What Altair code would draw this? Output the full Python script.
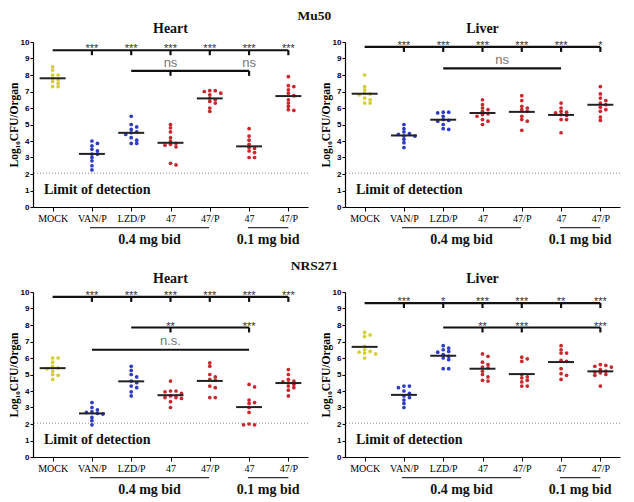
import altair as alt
import pandas as pd

categories = ["MOCK", "VAN/P", "LZD/P", "47", "47/P", "47", "47/P"]
kinds = ["mock", "comparator", "comparator", "test", "test", "test", "test"]

# Log10 CFU per organ, one list per group (order as categories)
mu50_heart = [
    [8.5, 8.3, 8.0, 7.8, 7.7, 7.5, 7.3, 7.3, 7.6, 8.0],
    [4.0, 3.85, 3.7, 3.5, 3.4, 3.2, 3.2, 3.0, 2.8, 2.5, 2.25],
    [5.5, 5.0, 4.85, 4.7, 4.55, 4.5, 4.4, 4.2, 4.05, 3.85, 3.85],
    [5.0, 4.8, 4.55, 4.2, 4.0, 3.85, 3.8, 3.75, 3.65, 2.65, 2.55],
    [7.05, 7.05, 7.0, 6.9, 6.8, 6.6, 6.5, 6.4, 6.3, 6.0, 5.8],
    [4.75, 4.3, 4.05, 3.8, 3.6, 3.55, 3.4, 3.3, 3.0, 3.0],
    [7.9, 7.35, 7.3, 7.1, 6.9, 6.75, 6.5, 6.3, 6.1, 5.9, 5.85],
]
mu50_liver = [
    [8.0, 7.3, 7.1, 6.9, 6.85, 6.8, 6.6, 6.5, 6.3, 6.3],
    [5.0, 4.75, 4.55, 4.45, 4.4, 4.3, 4.3, 4.1, 3.9, 3.6],
    [5.75, 5.75, 5.7, 5.5, 5.3, 5.25, 5.2, 5.0, 4.75, 4.7],
    [6.5, 6.2, 6.0, 5.9, 5.8, 5.65, 5.6, 5.5, 5.3, 5.2, 5.0],
    [6.75, 6.45, 6.1, 6.0, 5.9, 5.8, 5.5, 5.3, 5.2, 4.65],
    [6.3, 6.0, 5.8, 5.75, 5.7, 5.6, 5.55, 5.3, 5.3, 4.5],
    [7.3, 6.85, 6.6, 6.45, 6.3, 6.2, 6.05, 5.9, 5.8, 5.45, 5.25],
]
nrs_heart = [
    [6.0, 6.0, 5.75, 5.5, 5.4, 5.35, 5.2, 5.0, 4.95, 4.7],
    [3.3, 3.0, 2.85, 2.75, 2.7, 2.65, 2.6, 2.4, 2.2, 1.95],
    [5.5, 5.25, 5.0, 4.85, 4.6, 4.5, 4.3, 4.2, 3.95, 3.7],
    [4.6, 4.0, 4.0, 3.95, 3.85, 3.7, 3.6, 3.6, 3.55, 3.35, 3.0],
    [5.7, 5.5, 5.0, 4.85, 4.7, 4.65, 4.3, 4.2, 3.6, 3.6],
    [4.4, 4.25, 3.45, 3.3, 3.25, 3.0, 2.7, 2.0, 1.95, 1.95],
    [5.3, 5.0, 4.7, 4.6, 4.55, 4.5, 4.4, 4.3, 4.2, 4.05, 3.7],
]
nrs_liver = [
    [7.55, 7.4, 7.3, 6.7, 6.5, 6.4, 6.35, 6.3, 6.25, 6.0],
    [4.3, 4.3, 4.2, 4.0, 3.85, 3.7, 3.6, 3.45, 3.25, 3.0],
    [6.75, 6.6, 6.5, 6.4, 6.35, 6.2, 6.1, 6.0, 5.9, 5.35, 5.35],
    [6.25, 6.1, 5.75, 5.6, 5.45, 5.4, 5.2, 5.0, 4.85, 4.65, 4.6],
    [6.05, 5.95, 5.8, 5.0, 4.85, 4.8, 4.65, 4.55, 4.3, 4.3],
    [6.75, 6.5, 6.3, 6.3, 5.85, 5.8, 5.35, 5.05, 4.95, 4.7],
    [5.6, 5.55, 5.5, 5.45, 5.3, 5.2, 5.15, 5.1, 5.0, 4.95, 4.3],
]

# significance brackets: (from group, to group, level)
mu50_heart_bars = [(0, 6, 9.5), (2, 5, 8.25)]
mu50_heart_ticks = [(1, 9.5), (2, 9.5), (3, 9.5), (4, 9.5), (5, 9.5), (6, 9.5), (3, 8.25), (5, 8.25)]
mu50_heart_stars = [(1, 9.5, "***"), (2, 9.5, "***"), (3, 9.5, "***"), (4, 9.5, "***"), (5, 9.5, "***"), (6, 9.5, "***")]
mu50_heart_ns = [(3, 8.25, "ns"), (5, 8.25, "ns")]

mu50_liver_bars = [(0, 6, 9.7), (2, 5, 8.4)]
mu50_liver_ticks = [(1, 9.7), (2, 9.7), (3, 9.7), (4, 9.7), (5, 9.7), (6, 9.7)]
mu50_liver_stars = [(1, 9.7, "***"), (2, 9.7, "***"), (3, 9.7, "***"), (4, 9.7, "***"), (5, 9.7, "***"), (6, 9.7, "*")]
mu50_liver_ns = [(3.5, 8.4, "ns")]

nrs_heart_bars = [(0, 6, 9.7), (2, 5, 7.85), (1, 5, 6.5)]
nrs_heart_ticks = [(1, 9.7), (2, 9.7), (3, 9.7), (4, 9.7), (5, 9.7), (6, 9.7), (3, 7.85), (5, 7.85)]
nrs_heart_stars = [(1, 9.7, "***"), (2, 9.7, "***"), (3, 9.7, "***"), (4, 9.7, "***"), (5, 9.7, "***"), (6, 9.7, "***"),
                   (3, 7.85, "**"), (5, 7.85, "***")]
nrs_heart_ns = [(3, 6.5, "n.s.")]

nrs_liver_bars = [(0, 6, 9.33), (2, 6, 7.85)]
nrs_liver_ticks = [(1, 9.33), (2, 9.33), (3, 9.33), (4, 9.33), (5, 9.33), (6, 9.33), (3, 7.85), (4, 7.85), (6, 7.85)]
nrs_liver_stars = [(1, 9.33, "***"), (2, 9.33, "*"), (3, 9.33, "***"), (4, 9.33, "***"), (5, 9.33, "**"), (6, 9.33, "***"),
                   (3, 7.85, "**"), (4, 7.85, "***"), (6, 7.85, "***")]
nrs_liver_ns = []

detection_limit = 2.05
dose_groups = [("0.4 mg bid", 0.95, 3.98), ("0.1 mg bid", 4.97, 6.0)]

COLORS = {"mock": "#d3cf35", "comparator": "#2f3bc4", "test": "#c8282e"}
SERIF = "Liberation Serif"
SANS = "Liberation Sans"
W, H = 275, 165
XDOM = [-0.5, 6.5]

XSCALE = alt.Scale(domain=XDOM, nice=False, zero=False)
YSCALE = alt.Scale(domain=[0, 10], nice=False, zero=False)
LABEL_EXPR = "[" + ",".join("'%s'" % c for c in categories) + "][datum.value]"
XAXIS = alt.Axis(values=list(range(7)), labelExpr=LABEL_EXPR, title=None, grid=False,
                 labelFont=SERIF, labelFontSize=10, labelColor="black", tickColor="black",
                 domainColor="black", tickSize=4, labelPadding=2, domainWidth=1.2, labelOverlap=False)
YAXIS = alt.Axis(values=list(range(11)), title="Log\u2081\u2080CFU/Organ", grid=False,
                 labelFont=SANS, labelFontSize=8, labelFontWeight="bold", labelColor="black",
                 titleFont=SERIF, titleFontSize=11.5, titleFontWeight="bold", titleColor="black",
                 tickColor="black", domainColor="black", tickSize=3, labelPadding=1,
                 titlePadding=1, domainWidth=1.2, labelOverlap=False)


def X(field):
    return alt.X(field, scale=XSCALE, axis=XAXIS)


def Y(field):
    return alt.Y(field, scale=YSCALE, axis=YAXIS)


def swarm(values, step=0.14, tol=0.17):
    order = sorted(range(len(values)), key=lambda i: -values[i])
    offs = [0.0] * len(values)
    placed = []
    for i in order:
        chosen = 0.0
        for k in [0, 1, -1, 2, -2, 3, -3, 4, -4]:
            off = k * step
            if all(not (abs(values[i] - values[j]) < tol and abs(off - offs[j]) < step * 0.9) for j in placed):
                chosen = off
                break
        offs[i] = chosen
        placed.append(i)
    return offs


def panel(groups, bars, ticks, stars, ns, title):
    rows = []
    for gi, vals in enumerate(groups):
        offs = swarm(vals)
        for v, o in zip(vals, offs):
            rows.append({"idx": gi, "xp": gi + o, "value": v, "kind": kinds[gi]})
    df = pd.DataFrame(rows)

    base = alt.Chart(df)
    pts = base.mark_point(filled=True, size=14, opacity=1).encode(
        x=X("xp:Q"), y=Y("value:Q"),
        color=alt.Color("kind:N", scale=alt.Scale(domain=list(COLORS), range=list(COLORS.values())), legend=None),
    )
    means = base.transform_aggregate(m="mean(value)", groupby=["idx"]).transform_calculate(
        lo="datum.idx - 0.33", hi="datum.idx + 0.33"
    ).mark_rule(color="#222", strokeWidth=2).encode(x=X("lo:Q"), x2="hi:Q", y=Y("m:Q"))

    lod = alt.Chart(pd.DataFrame({"y": [detection_limit]})).mark_rule(
        color="#888", strokeDash=[1, 2], strokeWidth=1).encode(y=Y("y:Q"))
    lod_txt = alt.Chart(pd.DataFrame({"x": [-0.22], "y": [1.05], "t": ["Limit of detection"]})).mark_text(
        align="left", baseline="middle", font=SERIF, fontSize=14, fontWeight="bold", color="#111"
    ).encode(x=X("x:Q"), y=Y("y:Q"), text="t:N")

    bdf = pd.DataFrame(bars, columns=["x1", "x2", "y"])
    brs = alt.Chart(bdf).mark_rule(color="#111", strokeWidth=2.2).encode(x=X("x1:Q"), x2="x2:Q", y=Y("y:Q"))
    tdf = pd.DataFrame(ticks, columns=["x", "y"])
    tks = alt.Chart(tdf).transform_calculate(y2="datum.y - 0.3").mark_rule(color="#111", strokeWidth=2.2).encode(
        x=X("x:Q"), y=Y("y:Q"), y2="y2:Q")
    sdf = pd.DataFrame(stars, columns=["x", "y", "t"])
    sts = alt.Chart(sdf).transform_calculate(yt="datum.y + 0.05").mark_text(
        baseline="alphabetic", font=SANS, fontSize=11, color="#333", dy=3
    ).encode(x=X("x:Q"), y=Y("yt:Q"), text="t:N")
    layers = [lod, lod_txt, pts, means, brs, tks, sts]
    if ns:
        ndf = pd.DataFrame(ns, columns=["x", "y", "t"])
        layers.append(alt.Chart(ndf).transform_calculate(yt="datum.y + 0.08").mark_text(
            baseline="bottom", font=SANS, fontSize=13, color="#777"
        ).encode(x=X("x:Q"), y=Y("yt:Q"), text="t:N"))

    gdf = pd.DataFrame(dose_groups, columns=["t", "x1", "x2"])
    glines = alt.Chart(gdf).transform_calculate(y="-1.25").mark_rule(color="#333", strokeWidth=1.3).encode(
        x=X("x1:Q"), x2="x2:Q", y=Y("y:Q"))
    gtext = alt.Chart(gdf).transform_calculate(y="-2.0", xm="(datum.x1 + datum.x2) / 2").mark_text(
        baseline="middle", font=SERIF, fontSize=14, fontWeight="bold", color="#111"
    ).encode(x=X("xm:Q"), y=Y("y:Q"), text="t:N")
    layers += [glines, gtext]

    return alt.layer(*layers).properties(
        width=W, height=H,
        title=alt.TitleParams(title, font=SERIF, fontSize=14, fontWeight="bold", color="#111", offset=2),
    )


def row_title(t):
    return alt.TitleParams(t, font=SERIF, fontSize=13.5, fontWeight="bold", color="#111", offset=0, anchor="middle")


row1 = alt.hconcat(
    panel(mu50_heart, mu50_heart_bars, mu50_heart_ticks, mu50_heart_stars, mu50_heart_ns, "Heart"),
    panel(mu50_liver, mu50_liver_bars, mu50_liver_ticks, mu50_liver_stars, mu50_liver_ns, "Liver"),
    spacing=11,
).properties(title=row_title("Mu50"))
row2 = alt.hconcat(
    panel(nrs_heart, nrs_heart_bars, nrs_heart_ticks, nrs_heart_stars, nrs_heart_ns, "Heart"),
    panel(nrs_liver, nrs_liver_bars, nrs_liver_ticks, nrs_liver_stars, nrs_liver_ns, "Liver"),
    spacing=11,
).properties(title=row_title("NRS271"))

chart = alt.vconcat(row1, row2, spacing=11).configure_view(stroke=None).properties(
    padding={"left": 0, "top": 0, "right": 0, "bottom": 0}
)
chart.save("out.html", embed_options={"renderer": "svg", "actions": False})
